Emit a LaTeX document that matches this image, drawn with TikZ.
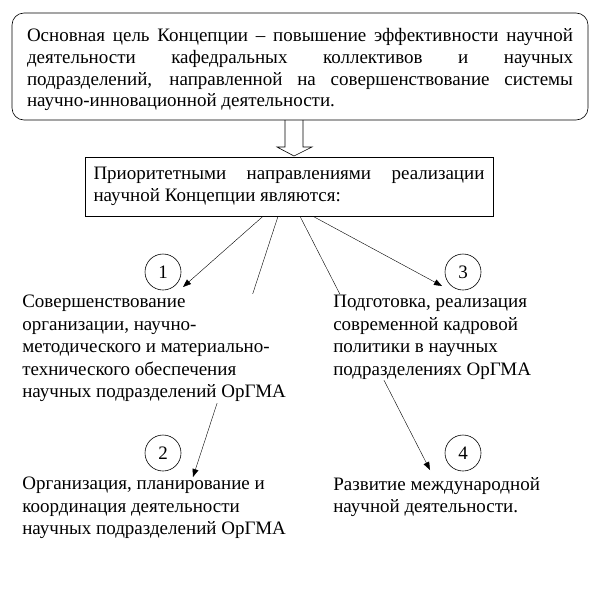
\documentclass[tikz,border=0pt]{standalone}
\usepackage{fontspec}
\setmainfont{Liberation Serif}
\usetikzlibrary{arrows.meta, positioning, calc, backgrounds}

\begin{document}
\begin{tikzpicture}[x=1pt, y=-1pt, line width=0.6pt,
    >={Triangle[length=8pt, width=6pt]},
    every node/.style={font=\fontsize{19}{22.5}\selectfont},
    item/.style={inner sep=1pt, anchor=north west, align=left},
    num/.style={circle, draw, minimum size=36pt, inner sep=0pt}]
    \useasboundingbox (0,0) rectangle (601,589);
    \node[draw, rounded corners=12pt, text width=546pt, inner xsep=15pt,
      minimum height=107pt, align=justify,
      font=\fontsize{19}{21.7}\selectfont] (goal) at (300,66.5)
      {\rule{0pt}{19.5pt}Основная цель Концепции – повышение эффективности научной\linebreak
       деятельности кафедральных коллективов и научных\linebreak
       подразделений, направленной на совершенствование системы\linebreak
       научно-инновационной деятельности.};
    \node[draw, text width=391pt, inner xsep=8.5pt, minimum height=59pt,
      align=justify] (prio) at (289,186.5)
      {Приоритетными направлениями реализации\linebreak
       научной Концепции являются:};
    % hollow arrow between the boxes
    \draw (285,120) -- (285,147) -- (277,147) -- (294,156) -- (312,147)
      -- (303,147) -- (303,120);
    \node[item, fill=white] (d1) at (21,294)
      {Совершенствование\\ организации, научно-\\ методического и материально-\\
       технического обеспечения\\ научных подразделений ОрГМА};
    \node[item, fill=white] (d3) at (332,294)
      {Подготовка, реализация\\ современной кадровой\\ политики в научных\\
       подразделениях ОрГМА};
    \node[item] (d2) at (21,476)
      {Организация, планирование и\\ координация деятельности\\
       научных подразделений ОрГМА};
    \node[item] (d4) at (332,476)
      {Развитие международной\\ научной деятельности.};
    \node[num] (n1) at (163,272) {1};
    \node[num] (n3) at (463,272) {3};
    \node[num] (n2) at (163,453) {2};
    \node[num] (n4) at (463,453) {4};
    \coordinate (t1) at (183,287);
    \coordinate (t3) at (442,286);
    \coordinate (t2) at (193,477);
    \coordinate (t4) at (430,470);
    \begin{scope}[on background layer]
      \foreach \dx/\t in {-26/t1, -11/t2, 11/t4, 24/t3}
        \draw[->] ($(prio.south)+(\dx,0)$) -- (\t);
    \end{scope}
\end{tikzpicture}
\end{document}
